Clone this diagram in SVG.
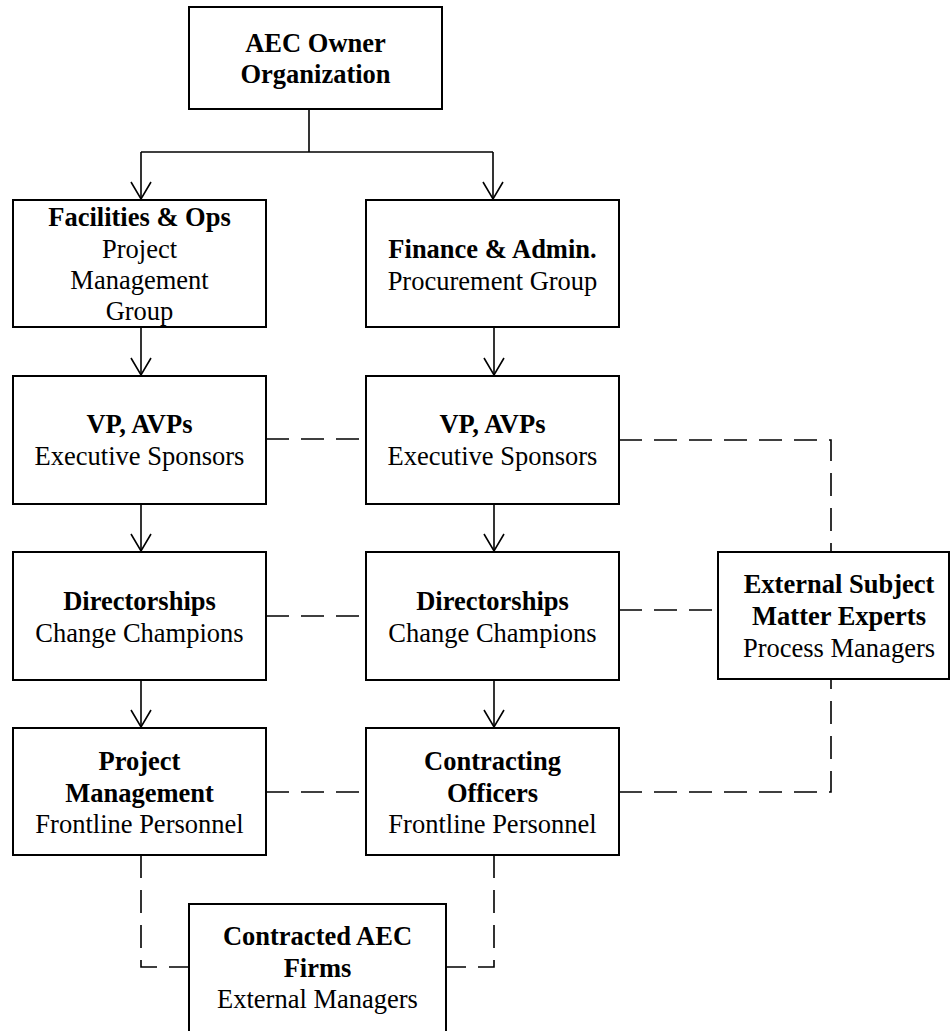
<svg xmlns="http://www.w3.org/2000/svg" width="950" height="1031" viewBox="0 0 950 1031">
<style>
.box{fill:#fff;stroke:#000;stroke-width:2}
.t{font-family:"Liberation Serif","Times New Roman",serif;font-size:26.5px;text-anchor:middle;fill:#000}
.b{font-weight:bold}
.ln{fill:none;stroke:#000;stroke-width:1.6}
.ds{fill:none;stroke:#000;stroke-width:1.6;stroke-dasharray:23 12}
</style>
<defs>
<marker id="arr" markerWidth="24" markerHeight="24" refX="20" refY="11" orient="auto" markerUnits="userSpaceOnUse">
<path d="M3,1 L20,11 L3,21" fill="none" stroke="#000" stroke-width="1.6"/>
</marker>
</defs>
<rect width="950" height="1031" fill="#fff"/>
<g id="connectors">
<path class="ln" d="M309,109 V152"/>
<path class="ln" d="M141,152 H493"/>
<path class="ln" d="M141,152 V199" marker-end="url(#arr)"/>
<path class="ln" d="M493,152 V199" marker-end="url(#arr)"/>
<path class="ln" d="M141,327 V375" marker-end="url(#arr)"/>
<path class="ln" d="M494,327 V375" marker-end="url(#arr)"/>
<path class="ln" d="M141,504 V551" marker-end="url(#arr)"/>
<path class="ln" d="M494,504 V551" marker-end="url(#arr)"/>
<path class="ln" d="M141,680 V727" marker-end="url(#arr)"/>
<path class="ln" d="M494,680 V727" marker-end="url(#arr)"/>
<path class="ds" d="M266,439 H366"/>
<path class="ds" d="M619,440 H831 V552"/>
<path class="ds" d="M266,616 H366"/>
<path class="ds" d="M619,610 H718"/>
<path class="ds" d="M266,792 H366"/>
<path class="ds" d="M619,792 H831 V679"/>
<path class="ds" d="M141,855 V967 H189"/>
<path class="ds" d="M494,855 V967 H446"/>
</g>
<g id="owner">
<rect class="box" x="189" y="7" width="253" height="102"/>
<text class="t b" x="315.5" y="52">AEC Owner</text>
<text class="t b" x="315.5" y="83">Organization</text>
</g>
<g id="facilities">
<rect class="box" x="13" y="200" width="253" height="127"/>
<text class="t b" x="139.5" y="226">Facilities &amp; Ops</text>
<text class="t" x="139.5" y="257.5">Project</text>
<text class="t" x="139.5" y="289">Management</text>
<text class="t" x="139.5" y="320">Group</text>
</g>
<g id="finance">
<rect class="box" x="366" y="200" width="253" height="127"/>
<text class="t b" x="492.5" y="258">Finance &amp; Admin.</text>
<text class="t" x="492.5" y="290">Procurement Group</text>
</g>
<g id="vp-left">
<rect class="box" x="13" y="376" width="253" height="128"/>
<text class="t b" x="139.5" y="433">VP, AVPs</text>
<text class="t" x="139.5" y="465">Executive Sponsors</text>
</g>
<g id="vp-right">
<rect class="box" x="366" y="376" width="253" height="128"/>
<text class="t b" x="492.5" y="433">VP, AVPs</text>
<text class="t" x="492.5" y="465">Executive Sponsors</text>
</g>
<g id="dir-left">
<rect class="box" x="13" y="552" width="253" height="128"/>
<text class="t b" x="139.5" y="610">Directorships</text>
<text class="t" x="139.5" y="642">Change Champions</text>
</g>
<g id="dir-right">
<rect class="box" x="366" y="552" width="253" height="128"/>
<text class="t b" x="492.5" y="610">Directorships</text>
<text class="t" x="492.5" y="642">Change Champions</text>
</g>
<g id="external-sme">
<rect class="box" x="718" y="552" width="231" height="127"/>
<text class="t b" x="839" y="593">External Subject</text>
<text class="t b" x="839" y="625">Matter Experts</text>
<text class="t" x="839" y="657">Process Managers</text>
</g>
<g id="pm">
<rect class="box" x="13" y="728" width="253" height="127"/>
<text class="t b" x="139.5" y="770">Project</text>
<text class="t b" x="139.5" y="802">Management</text>
<text class="t" x="139.5" y="833">Frontline Personnel</text>
</g>
<g id="co">
<rect class="box" x="366" y="728" width="253" height="127"/>
<text class="t b" x="492.5" y="770">Contracting</text>
<text class="t b" x="492.5" y="802">Officers</text>
<text class="t" x="492.5" y="833">Frontline Personnel</text>
</g>
<g id="contracted">
<rect class="box" x="189" y="904" width="257" height="140"/>
<text class="t b" x="317.5" y="945">Contracted AEC</text>
<text class="t b" x="317.5" y="977">Firms</text>
<text class="t" x="317.5" y="1008">External Managers</text>
</g>
</svg>
